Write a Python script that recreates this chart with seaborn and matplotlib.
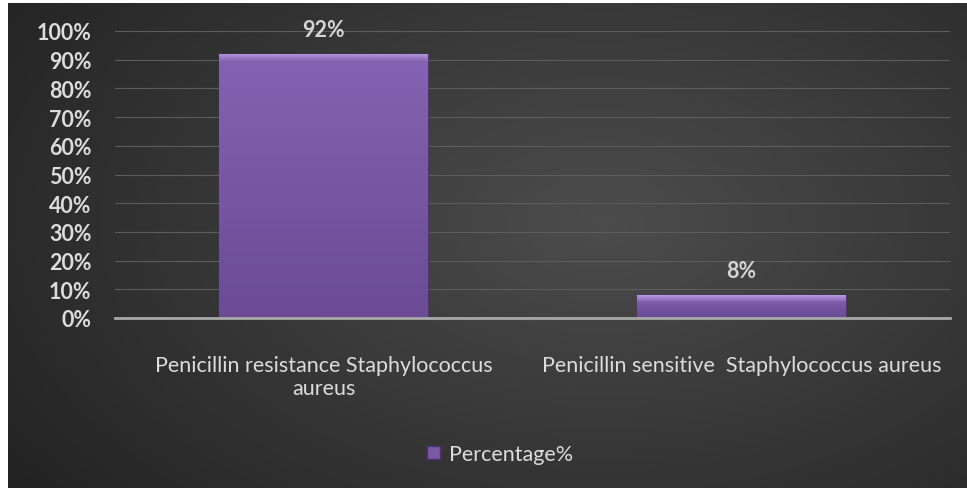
import numpy as np
import pandas as pd
import matplotlib
matplotlib.use("Agg")
import matplotlib.pyplot as plt
import seaborn as sns
from matplotlib.patches import Patch
from matplotlib.colors import to_rgb

# data
categories = ["Penicillin resistance Staphylococcus\naureus",
              "Penicillin sensitive  Staphylococcus aureus"]
values = [0.92, 0.08]
value_labels = ["92%", "8%"]
series_name = "Percentage%"

df = pd.DataFrame({"category": categories, "value": values})

sns.set_style("dark")
plt.rcParams["font.family"] = ["Lato", "DejaVu Sans"]

W, H = 967, 489
fig = plt.figure(figsize=(W / 100, H / 100), dpi=100)
fig.patch.set_facecolor("white")

# gradient background (dark edges, lighter toward centre-right)
bg = fig.add_axes([8 / W, 0, 1 - 8 / W, 1 - 4 / H])
yy, xx = np.mgrid[0:1:200j, 0:1:400j]
r = np.sqrt(((xx - 0.62) / 0.75) ** 2 + ((yy - 0.45) / 0.9) ** 2)
shade = np.clip(0.30 - 0.16 * r, 0.14, 0.30)
bg.imshow(np.dstack([shade, shade, shade]), aspect="auto", extent=[0, 1, 0, 1], origin="upper")
bg.set_axis_off()

ax = fig.add_axes([115 / W, 1 - 319 / H, (950 - 115) / W, (319 - 32) / H])
ax.patch.set_alpha(0)

sns.barplot(data=df, x="category", y="value", width=0.5, color="#7a58a6",
            edgecolor="#4e3570", linewidth=0.8, ax=ax, zorder=3)

ax.set_ylim(0, 1)
ax.set_xlim(-0.5, 1.5)
ticks = np.arange(0, 1.01, 0.1)
ax.set_yticks(ticks)
ax.set_yticklabels([f"{int(round(t * 100))}%" for t in ticks],
                   fontsize=15.5, fontweight="bold", color="#dcdcdc")
ax.tick_params(axis="x", colors="#dcdcdc", labelsize=15.5, length=0, pad=27)
ax.tick_params(axis="y", length=0, pad=17)
for lab in ax.get_xticklabels():
    lab.set_linespacing(1.15)
ax.set_xlabel("")
ax.set_ylabel("")
ax.grid(axis="y", color="#5c5c5c", linewidth=0.8, zorder=0)
ax.grid(axis="x", visible=False)
for s in ["top", "right", "left"]:
    ax.spines[s].set_visible(False)
ax.spines["bottom"].set_color("#a8a8a8")
ax.spines["bottom"].set_linewidth(2)
ax.spines["bottom"].set_zorder(4)

# bevelled gradient fill for each bar
fig.canvas.draw()
px_per_unit = ax.get_window_extent().height / 1.0
top_c = np.array(to_rgb("#8463b4"))
bot_c = np.array(to_rgb("#6a4b94"))
bevel_c = np.array(to_rgb("#b596e0"))
for p in ax.patches:
    h = p.get_height()
    n = max(int(round(h * px_per_unit)), 2)
    t = np.linspace(0, 1, n)[:, None]
    rows = top_c * (1 - t) + bot_c * t
    bev = min(8, n // 3)
    for i in range(bev):
        f = 1 - i / bev
        rows[i] = bevel_c * f + rows[i] * (1 - f)
    img = np.repeat(rows[:, None, :], 20, axis=1)
    im = ax.imshow(img, aspect="auto", origin="upper", zorder=3.5,
                   extent=[p.get_x(), p.get_x() + p.get_width(), 0, h])
    im.set_clip_path(p)
ax.set_xlim(-0.5, 1.5)
ax.set_ylim(0, 1)

for p, lab in zip(ax.patches, value_labels):
    ax.annotate(lab, (p.get_x() + p.get_width() / 2, p.get_height()),
                xytext=(0, 10), textcoords="offset points", ha="center",
                va="bottom", fontsize=15.5, fontweight="bold", color="#d4d4d4")

handle = Patch(facecolor="#7a58a6", edgecolor="#4e3570", label=series_name)
leg = fig.legend(handles=[handle], loc="center", bbox_to_anchor=(500 / W, 1 - 455 / H),
                 frameon=False, fontsize=15.5, handlelength=0.6, handleheight=0.6,
                 handletextpad=0.4)
for t in leg.get_texts():
    t.set_color("#dcdcdc")

fig.savefig("out.png", dpi=100)
